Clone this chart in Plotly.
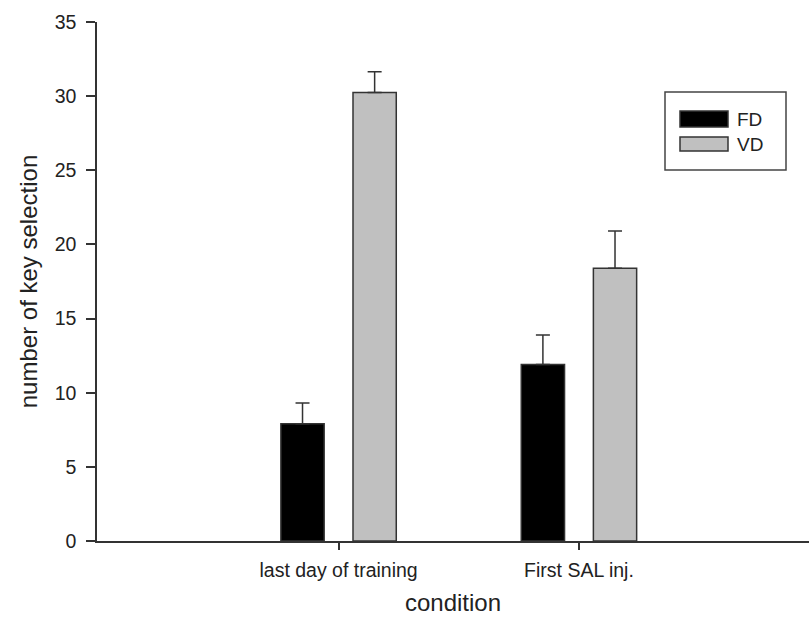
import plotly.graph_objects as go

categories = ["last day of training", "First SAL inj."]
series_names = ["FD", "VD"]
fd_values = [7.9, 11.9]
vd_values = [30.25, 18.4]
fd_err = [1.4, 2.0]
vd_err = [1.4, 2.5]
y_ticks = [0, 5, 10, 15, 20, 25, 30, 35]

FONT = "Liberation Sans, Arial, sans-serif"
x_pos = list(range(len(categories)))

fig = go.Figure()
for name, vals, errs, color in [
    (series_names[0], fd_values, fd_err, "#000000"),
    (series_names[1], vd_values, vd_err, "#c0c0c0"),
]:
    fig.add_trace(go.Bar(
        name=name, x=x_pos, y=vals,
        marker=dict(color=color, line=dict(color="#333333", width=1.5)),
        error_y=dict(type="data", symmetric=False, array=errs,
                     arrayminus=[0] * len(errs), color="#333333",
                     thickness=1.5, width=7),
        showlegend=False,
    ))

fig.update_layout(
    width=809, height=622,
    margin=dict(l=97, r=0, t=22, b=81),
    plot_bgcolor="white", paper_bgcolor="white",
    barmode="group", bargap=0.4, bargroupgap=0.4,
    font=dict(family=FONT, color="#222222"),
    xaxis=dict(
        range=[-1.005, 1.957], tickmode="array", tickvals=x_pos,
        ticktext=categories, showline=True, linecolor="#333333", linewidth=1.5,
        ticks="outside", ticklen=7, tickcolor="#333333", tickwidth=1.5,
        showgrid=False, zeroline=False, tickfont=dict(size=19.5, family=FONT),
        ticklabelstandoff=4,
        title=dict(text="condition", font=dict(size=24, family=FONT), standoff=14),
    ),
    yaxis=dict(
        range=[0, 35], tickmode="array", tickvals=y_ticks,
        showline=True, linecolor="#333333", linewidth=1.5,
        ticks="outside", ticklen=9, tickcolor="#333333", tickwidth=1.5,
        showgrid=False, zeroline=False, tickfont=dict(size=19.5, family=FONT),
        ticklabelstandoff=6,
        title=dict(text="number of key selection", font=dict(size=24, family=FONT), standoff=10),
    ),
)

# legend box drawn in pixel-equivalent paper coordinates
W, H = 809 - 97, 622 - 22 - 81
def px(x): return (x - 97) / W
def py(y): return (541 - y) / H

fig.add_shape(type="rect", xref="paper", yref="paper",
              x0=px(665), x1=px(786), y0=py(170), y1=py(92),
              line=dict(color="#444444", width=1.5), fillcolor="white")
fig.add_shape(type="rect", xref="paper", yref="paper",
              x0=px(680), x1=px(728), y0=py(127), y1=py(111),
              line=dict(color="#333333", width=1.5), fillcolor="#000000")
fig.add_shape(type="rect", xref="paper", yref="paper",
              x0=px(680), x1=px(728), y0=py(151), y1=py(137),
              line=dict(color="#333333", width=1.5), fillcolor="#c0c0c0")
for label, yc in [(series_names[0], 119), (series_names[1], 144)]:
    fig.add_annotation(xref="paper", yref="paper", x=px(735), y=py(yc),
                       text=label, showarrow=False, xanchor="left", yanchor="middle",
                       font=dict(size=19, family=FONT, color="#222222"))

fig.write_html("out.html")
